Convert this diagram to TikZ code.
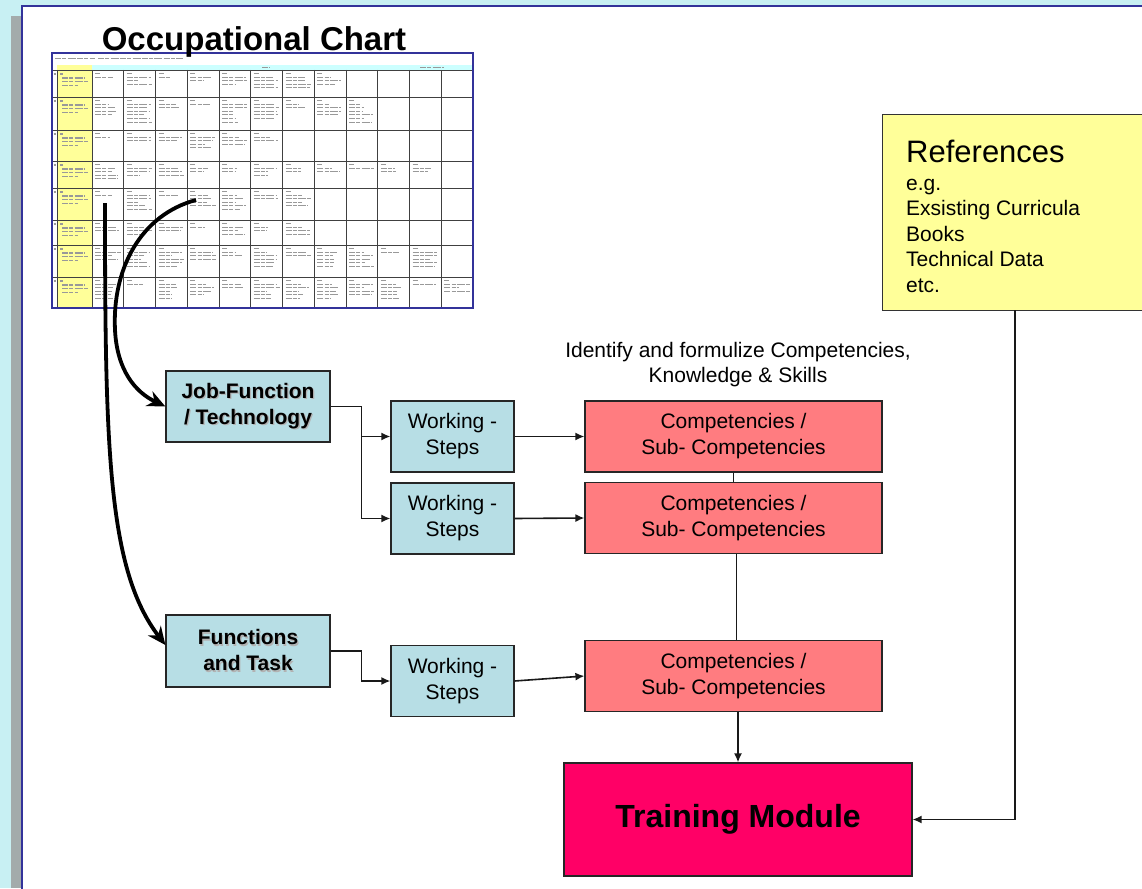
\documentclass[tikz,border=0pt]{standalone}
\usepackage{fontspec}
\setmainfont{Liberation Sans}
\usetikzlibrary{arrows.meta}
\definecolor{bgcyan}{HTML}{C8F0F3}
\definecolor{shadowgray}{HTML}{A3ABAB}
\definecolor{panelblue}{HTML}{33339A}
\definecolor{boxblue}{HTML}{B7DEE5}
\definecolor{compred}{HTML}{FF7C80}
\definecolor{tmpink}{HTML}{FF0066}
\definecolor{refyellow}{HTML}{FFFF99}
\definecolor{tabyellow}{HTML}{FFFF99}
\definecolor{tabcyan}{HTML}{CCFFFF}
\newcommand\shd[1]{\rlap{\kern1.3pt\raisebox{-1.3pt}{\textcolor{black!30}{#1}}}#1}
\begin{document}
\begin{tikzpicture}[x=1pt,y=-1pt,
 box/.style={draw=black!85, line width=1.2pt, rectangle, inner sep=0pt, align=center},
 jobbox/.style={box, fill=boxblue, minimum width=164pt, minimum height=71pt, font=\fontsize{21}{26}\selectfont\bfseries},
 wsbox/.style={box, fill=boxblue, minimum width=123pt, minimum height=71pt, font=\fontsize{21}{26}\selectfont},
 compbox/.style={box, fill=compred, minimum width=297pt, minimum height=71pt, font=\fontsize{21}{26}\selectfont},
 conn/.style={line width=1.6pt, black!90, -{Latex[length=9pt,width=8pt]}},
 link/.style={line width=1.6pt, black!90},
 bigarrow/.style={line width=3.8pt, -{Stealth[length=18pt,width=16pt]}},
 gridline/.style={line width=0.9pt, black!75},
 txt/.style={line width=1.1pt, black!40, dash pattern=on 6pt off 1.3pt on 4pt off 1.3pt on 8pt off 1.3pt},
]
\useasboundingbox (0,0) rectangle (1142,888);
% background and slide panel
\fill[bgcyan] (0,0) rectangle (1142,888);
\fill[shadowgray] (11,16) rectangle (23,888);
\filldraw[fill=white, draw=panelblue, line width=1.6pt] (22,6) rectangle (1160,900);

% occupational chart table
\fill[white] (52,53) rectangle (473,308);
\fill[tabyellow] (57,65) rectangle (92,307);
\fill[tabcyan] (92,65) rectangle (472,70);
\foreach \yy in {70,97,130,161,188,220,245,277}
  \draw[gridline] (52,\yy) -- (473,\yy);
\foreach \xx in {57,92,123.75,155.5,187.25,219,250.75,282.5,314.25,346,377.75,409.5,441.25}
  \draw[gridline] (\xx,70) -- (\xx,307);
% tiny text of the table
\draw[txt] (55,58.5) -- ++(40,0);
\draw[txt] (98,58.5) -- ++(85,0);
\draw[txt] (262,67.5) -- ++(8,0);
\draw[txt] (420,67.5) -- ++(24,0);
\pgfmathsetseed{12}
\foreach \yt/\n/\L in {70/8/4, 97/9/6, 130/6/4, 161/11/4, 188/7/5, 220/7/3, 245/11/5, 277/12/5}{
  \draw[txt] (53.5,\yt+4) -- ++(2.5,0);
  \draw[txt] (60,\yt+4) -- ++(3,0);
  \draw[txt] (62,\yt+8) -- ++(22,0);
  \draw[txt] (62,\yt+11.6) -- ++(26,0);
  \draw[txt] (62,\yt+15.2) -- ++(16,0);
  \foreach \c in {1,...,\n}{
    \pgfmathsetmacro\cellx{92+(\c-1)*31.75+3}
    \draw[txt] (\cellx,\yt+3.5) -- ++(5,0);
    \pgfmathsetmacro\nlines{int(1+random(0,\L-1))}
    \foreach \k in {1,...,\nlines}{
      \pgfmathsetmacro\barlen{12+rnd*14}
      \draw[txt] (\cellx,\yt+3.5+\k*3.6) -- ++(\barlen,0);
    }
  }
}
\draw[panelblue, line width=1.5pt] (52,53) rectangle (473,308);
\node[font=\fontsize{33}{33}\selectfont\bfseries, anchor=base] (title) at (254,51) {Occupational Chart};

% nodes
\node[jobbox] (jf) at (248,406.5) {\shd{Job-Function}\\\shd{/ Technology}};
\node[jobbox, minimum height=72pt] (fat) at (248,651) {\shd{Functions}\\\shd{and Task}};
\node[wsbox] (ws1) at (452.5,436.5) {Working -\\Steps};
\node[wsbox] (ws2) at (452.5,518.5) {Working -\\Steps};
\node[wsbox] (ws3) at (452.5,681) {Working -\\Steps};
\node[compbox] (c1) at (733.5,436.5) {Competencies /\\Sub- Competencies};
\node[compbox] (c2) at (733.5,518) {Competencies /\\Sub- Competencies};
\node[compbox] (c3) at (733.5,676) {Competencies /\\Sub- Competencies};
\node[box, fill=tmpink, minimum width=348pt, minimum height=113pt, font=\fontsize{32}{36}\selectfont\bfseries] (tm) at (738,819.5) {Training Module};
\node[font=\fontsize{21}{25}\selectfont, align=center] (lbl) at (738,365) {Identify and formulize Competencies,\\Knowledge \& Skills};
\node[draw=black!80, line width=1.2pt, fill=refyellow, rectangle, minimum width=280pt, minimum height=196pt, anchor=north west, inner sep=0pt] (refs) at (882,114) {};
\node[anchor=north west, align=left, inner sep=0pt, font=\fontsize{21}{25.5}\selectfont] (reftxt) at (906,140) {{\fontsize{31}{28}\selectfont References}\\[2pt]e.g.\\Exsisting Curricula\\Books\\Technical Data\\etc.};
\coordinate (rtop) at (1015,310);

% connectors
\draw[bigarrow] (196,200) .. controls (140,215) and (112,270) .. (115,330) .. controls (117,370) and (135,392) .. (jf.west);
\draw[bigarrow] (105,203) .. controls (105,450) and (108,570) .. ([yshift=6pt]fat.west);
\draw[conn] (jf.east) -- ++(31,0) |- (ws1.west);
\draw[conn] (jf.east) -- ++(31,0) |- (ws2.west);
\draw[conn] (fat.east) -- ++(31,0) |- (ws3.west);
\draw[conn] (ws1.east) -- (c1.west);
\draw[conn] (ws2.east) -- (c2.west);
\draw[conn] (ws3.east) -- (c3.west);
\draw[link] (c1.south) -- (c2.north);
\draw[link] ([xshift=3pt]c2.south) -- ([xshift=3pt]c3.north);
\draw[conn] (tm.north |- c3.south) -- (tm.north);
\draw[conn] (rtop) |- (tm.east);
\end{tikzpicture}
\end{document}
